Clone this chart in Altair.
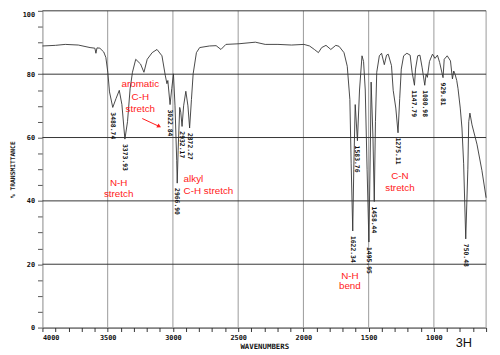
import altair as alt
import pandas as pd

# ---- spectrum trace (wavenumber cm-1, % transmittance) ----
wn = [4000, 3900, 3825, 3725, 3635, 3598, 3590, 3582, 3560, 3530, 3514, 3499, 3486,
      3461, 3436, 3411, 3391, 3368, 3348, 3328, 3310, 3285, 3248, 3222, 3197, 3159,
      3122, 3084, 3059, 3046, 3039, 3022, 3009, 2996, 2984, 2971, 2967, 2960, 2948,
      2940, 2930, 2918, 2901, 2885, 2872, 2858, 2845, 2820, 2795, 2720, 2669, 2632,
      2594, 2494, 2368, 2293, 2195, 2091, 1996, 1953, 1916, 1885, 1860, 1827, 1790,
      1752, 1727, 1689, 1664, 1644, 1634, 1622, 1614, 1603, 1586, 1570, 1551, 1539,
      1526, 1512, 1498, 1486, 1481, 1467, 1457, 1448, 1438, 1418, 1401, 1380, 1363,
      1350, 1325, 1312, 1292, 1275, 1262, 1250, 1232, 1207, 1182, 1167, 1149, 1141,
      1124, 1107, 1090, 1070, 1060, 1050, 1034, 1011, 991, 973, 956, 930, 921, 898,
      873, 858, 848, 838, 825, 815, 798, 785, 772, 756, 740, 733, 724, 708, 670, 632,
      600]
tr = [88.9, 89.1, 89.4, 89.2, 88.4, 88.2, 86.6, 88.3, 88.2, 87.0, 85.3, 80.6, 74.4,
      69.5, 72.3, 74.9, 70.4, 59.5, 65.0, 75.4, 80.6, 84.7, 83.2, 80.6, 84.7, 86.8,
      87.8, 85.8, 79.7, 77.0, 78.0, 70.4, 75.4, 80.1, 70.0, 52.7, 45.6, 56.0, 69.5,
      68.0, 63.5, 70.0, 74.6, 70.0, 63.0, 72.0, 80.1, 86.8, 88.4, 88.9, 89.0, 87.8,
      89.4, 89.6, 90.1, 89.4, 89.4, 89.2, 89.4, 88.9, 87.8, 86.8, 88.4, 89.1, 87.8,
      89.1, 88.8, 86.8, 82.5, 72.0, 51.7, 30.5, 50.0, 70.4, 59.0, 75.0, 85.8, 84.0,
      75.0, 50.0, 27.0, 60.0, 77.5, 60.0, 39.8, 65.0, 80.6, 85.8, 86.6, 83.0, 86.0,
      86.3, 82.7, 74.9, 69.3, 61.5, 72.3, 81.6, 85.8, 86.6, 86.0, 80.6, 76.5, 81.6,
      85.8, 86.0, 82.0, 76.5, 80.0, 79.0, 84.0, 86.3, 85.0, 86.0, 83.7, 78.9, 84.7,
      85.8, 84.2, 78.5, 81.0, 80.0, 78.0, 75.4, 69.3, 63.0, 51.7, 28.0, 50.0, 65.0,
      67.7, 64.0, 57.9, 49.6, 41.0]

# ---- peak labels ----
peak_pos = [3461, 3368, 3021, 2966, 2928, 2872, 1621, 1586, 1498, 1457, 1275, 1149, 1070, 930, 756]
peak_t = [69.5, 59.5, 70.4, 45.6, 63.5, 63.0, 30.5, 59.0, 27.0, 39.8, 61.5, 76.5, 76.5, 78.9, 28.0]
peak_text = ["3488.74", "3373.93", "3022.84", "2966.90", "2932.17", "2872.27", "1622.34",
             "1583.76", "1495.95", "1458.44", "1275.11", "1147.79", "1080.98", "929.81", "750.48"]

# ---- red annotations ----
ann_c_text = ["aromatic", "C-H", "stretch", "N-H", "stretch", "C-N", "stretch", "N-H", "bend"]
ann_c_w = [3250, 3250, 3250, 3416, 3416, 1260, 1260, 1644, 1644]
ann_c_t = [76.9, 72.9, 69.1, 45.6, 42.2, 47.8, 44.0, 16.4, 13.0]
ann_l_text = ["alkyl", "C-H stretch"]
ann_l_w = [2918, 2918]
ann_l_t = [46.8, 43.1]
arrow_w = [3235, 3105]
arrow_t = [66.0, 63.5]
corner_text = ["3H"]
corner_w = [770]
corner_t = [-5.0]

# ---- grid / tick values ----
x_grid = [3500, 3000, 2500, 2000, 1500, 1000, 600]
y_grid = [20, 40, 60, 80, 100]
x_ticks = list(range(600, 4001, 100))
y_ticks = list(range(0, 101, 5))

MONO = "DejaVu Sans Mono"
RED = "#ff1a1a"

xs = alt.Scale(domain=[600, 4000], reverse=True, nice=False, zero=False)
ys = alt.Scale(domain=[0, 100], nice=False, zero=False)
xaxis = alt.Axis(values=x_ticks, format="d",
                 labelExpr="datum.value % 500 === 0 ? datum.label : ''",
                 labelFlush=True, grid=False, tickSize=4, tickColor="#333",
                 domainColor="#222", labelFont=MONO, labelFontSize=7,
                 labelFontWeight="bold", labelPadding=2, labelColor="#111",
                 title="WAVENUMBERS", titleFont=MONO, titleFontSize=7.5,
                 titleFontWeight="bold", titleBaseline="middle", titleY=19,
                 titleColor="#111")
yaxis = alt.Axis(values=y_ticks, format="d",
                 labelExpr="datum.value % 20 === 0 ? datum.label : ''",
                 labelBaseline={"condition": {"test": "datum.value === 100", "value": "top"},
                                "value": "middle"},
                 grid=False, tickSize=5, tickColor="#555", domainColor="#888",
                 labelFont=MONO, labelFontSize=7, labelFontWeight="bold",
                 labelPadding=3, labelColor="#111",
                 title="% TRANSMITTANCE", titleFont=MONO, titleFontSize=6.4,
                 titleFontWeight="bold", titleAngle=-90, titleAlign="center",
                 titleBaseline="middle", titleX=-30, titleY=161, titleColor="#222")


def X(field="w"):
    return alt.X(f"{field}:Q", scale=xs, axis=xaxis)


def Y(field="t"):
    return alt.Y(f"{field}:Q", scale=ys, axis=yaxis)


spec_df = pd.DataFrame({"w": wn, "t": tr})
peak_df = pd.DataFrame({"w": peak_pos, "t": peak_t, "label": peak_text})
annc_df = pd.DataFrame({"w": ann_c_w, "t": ann_c_t, "label": ann_c_text})
annl_df = pd.DataFrame({"w": ann_l_w, "t": ann_l_t, "label": ann_l_text})
arrow_df = pd.DataFrame({"w": [arrow_w[0]], "t": [arrow_t[0]], "w2": [arrow_w[1]], "t2": [arrow_t[1]]})
head_df = pd.DataFrame({"w": [arrow_w[1]], "t": [arrow_t[1]]})
corner_df = pd.DataFrame({"w": corner_w, "t": corner_t, "label": corner_text})
xg_df = pd.DataFrame({"w": x_grid})
yg_df = pd.DataFrame({"t": y_grid})

xgrid = alt.Chart(xg_df).mark_rule(color="#999", strokeWidth=1).encode(x=X())
ygrid = alt.Chart(yg_df).mark_rule(color="#333", strokeWidth=1).encode(y=Y())
line = alt.Chart(spec_df).mark_line(color="#333", strokeWidth=0.9).encode(
    x=X(), y=Y(), order="idx:Q"
).transform_window(idx="row_number()")
peaks = alt.Chart(peak_df).mark_text(
    angle=90, align="left", baseline="middle", dx=5, font=MONO,
    fontSize=6.5, fontWeight="bold", color="#111"
).encode(x=X(), y=Y(), text="label:N")
annc = alt.Chart(annc_df).mark_text(
    align="center", baseline="middle", font="Liberation Sans", fontSize=10, color=RED
).encode(x=X(), y=Y(), text="label:N")
annl = alt.Chart(annl_df).mark_text(
    align="left", baseline="middle", font="Liberation Sans", fontSize=10, color=RED
).encode(x=X(), y=Y(), text="label:N")
arrow = alt.Chart(arrow_df).mark_rule(color=RED, strokeWidth=1).encode(
    x=X(), y=Y(), x2="w2:Q", y2="t2:Q")
head = alt.Chart(head_df).mark_point(
    shape="triangle-right", filled=True, angle=27, size=22, color=RED, opacity=1
).encode(x=X(), y=Y())
corner = alt.Chart(corner_df).mark_text(
    align="center", baseline="middle", font="Liberation Sans Narrow, Liberation Sans",
    fontSize=13, color="#111"
).encode(x=X(), y=Y(), text="label:N")

chart = alt.layer(xgrid, ygrid, line, peaks, annc, annl, arrow, head, corner).properties(
    width=451, height=322,
    autosize=alt.AutoSizeParams(type="none"),
    padding={"left": 35, "top": 0, "right": 6, "bottom": 25},
    background="white",
).configure_view(strokeWidth=0)

chart.save("out.html", embed_options={"renderer": "svg", "actions": False})
